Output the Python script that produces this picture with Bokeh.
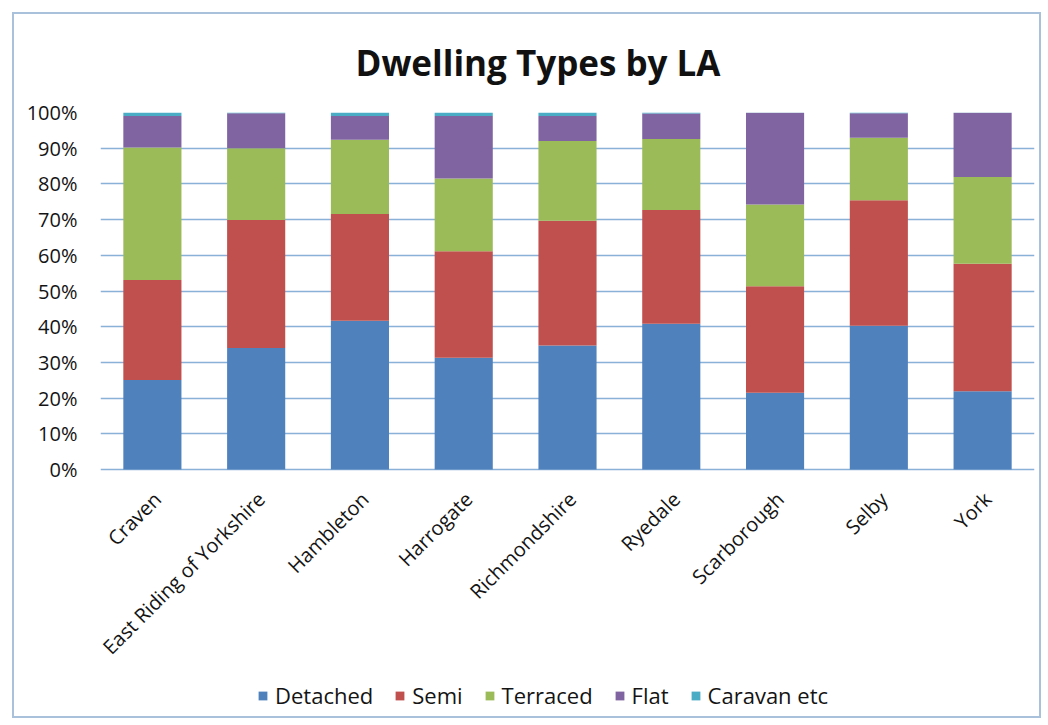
from math import pi

from bokeh.core.properties import value
from bokeh.embed import file_html
from bokeh.models import (ColumnDataSource, FixedTicker, Legend, LegendItem,
                          PrintfTickFormatter, Range1d)
from bokeh.plotting import figure
from bokeh.resources import INLINE

# Share of dwellings (%) by type for each local authority
authorities = ["Craven", "East Riding of Yorkshire", "Hambleton", "Harrogate",
               "Richmondshire", "Ryedale", "Scarborough", "Selby", "York"]
detached = [25.1, 34.0, 41.7, 31.3, 34.7, 40.8, 21.5, 40.3, 21.9]
semi = [28.0, 35.9, 29.9, 29.8, 35.0, 31.9, 29.8, 35.1, 35.7]
terraced = [37.1, 20.1, 20.8, 20.4, 22.3, 19.9, 22.9, 17.5, 24.3]
flat = [8.8, 9.8, 6.6, 17.5, 7.0, 7.1, 25.7, 6.9, 18.0]
caravan = [1.0, 0.2, 1.0, 1.0, 1.0, 0.3, 0.1, 0.2, 0.1]

series_names = ["Detached", "Semi", "Terraced", "Flat", "Caravan etc"]
series_keys = ["detached", "semi", "terraced", "flat", "caravan"]
series_colors = ["#4f81bd", "#c0504d", "#9bbb59", "#8064a2", "#4bacc6"]
y_ticks = [0, 10, 20, 30, 40, 50, 60, 70, 80, 90, 100]

source = ColumnDataSource(dict(authority=authorities, detached=detached, semi=semi,
                               terraced=terraced, flat=flat, caravan=caravan,
                               base=[0] * len(authorities)))

FONT = "Open Sans"
TEXT = "#141414"
GRID = "#8ab1d7"
FRAME = "#a9c1da"

# Plot frame runs from the top of the value scale down to the bottom of the
# canvas; the space under 0% holds the category labels and the legend.
W, H = 1048, 725
TOP, ZERO = 112, 469
px_per_pct = (ZERO - TOP) / 100
y_low = -(H - ZERO) / px_per_pct

p = figure(
    x_range=authorities,
    y_range=Range1d(y_low, 100),
    width=W,
    height=H,
    output_backend="svg",
    toolbar_location=None,
    x_axis_location=None,
    min_border_left=100,
    min_border_right=14,
    min_border_top=TOP,
    min_border_bottom=0,
    background_fill_color=None,
    border_fill_color=None,
    outline_line_color=None,
)

renderers = p.vbar_stack(series_keys, x="authority", width=0.56, source=source,
                         color=series_colors, line_color=None)

# Category labels, slanted under each bar
p.text(x="authority", y="base", text="authority", source=source,
       angle=pi / 4, text_align="right", text_baseline="middle",
       x_offset=5, y_offset=26,
       text_font=value(FONT), text_font_size="20px", text_color=TEXT)

# Title
p.title.text = "Dwelling Types by LA"
p.title.text_font = FONT
p.title.text_font_size = "35px"
p.title.text_font_style = "bold"
p.title.text_color = "#111111"
p.title.align = "left"
p.title.offset = 255
p.title.standoff = 53

# Value axis
p.yaxis.ticker = FixedTicker(ticks=y_ticks)
p.yaxis.formatter = PrintfTickFormatter(format="%d%%")
p.yaxis.axis_line_color = None
p.yaxis.major_tick_line_color = None
p.yaxis.minor_tick_line_color = None
p.yaxis.major_label_standoff = 17
p.yaxis.major_label_text_font = FONT
p.yaxis.major_label_text_font_size = "20px"
p.yaxis.major_label_text_color = TEXT

p.xgrid.grid_line_color = None
p.ygrid.ticker = FixedTicker(ticks=y_ticks)
p.ygrid.grid_line_color = GRID
p.ygrid.grid_line_width = 1.5

# Legend along the bottom
legend = Legend(
    items=[LegendItem(label=n, renderers=[r]) for n, r in zip(series_names, renderers)],
    orientation="horizontal",
    location=(157, 15),
    glyph_width=11,
    glyph_height=11,
    label_standoff=7,
    spacing=21,
    padding=0,
    margin=0,
    border_line_color=None,
    background_fill_alpha=0,
    label_text_font=FONT,
    label_text_font_size="22px",
    label_text_color=TEXT,
)
p.add_layout(legend, "center")

# Thin frame around the whole chart area, drawn behind the transparent canvas
edge = f"linear-gradient({FRAME},{FRAME})"
p.styles = {
    "background": (
        f"{edge} 12px 12px / 1029px 2px no-repeat, "
        f"{edge} 12px 716px / 1029px 2px no-repeat, "
        f"{edge} 12px 12px / 2px 706px no-repeat, "
        f"{edge} 1039px 12px / 2px 706px no-repeat, white"
    ),
}

open("out.html", "w").write(file_html(p, INLINE))
